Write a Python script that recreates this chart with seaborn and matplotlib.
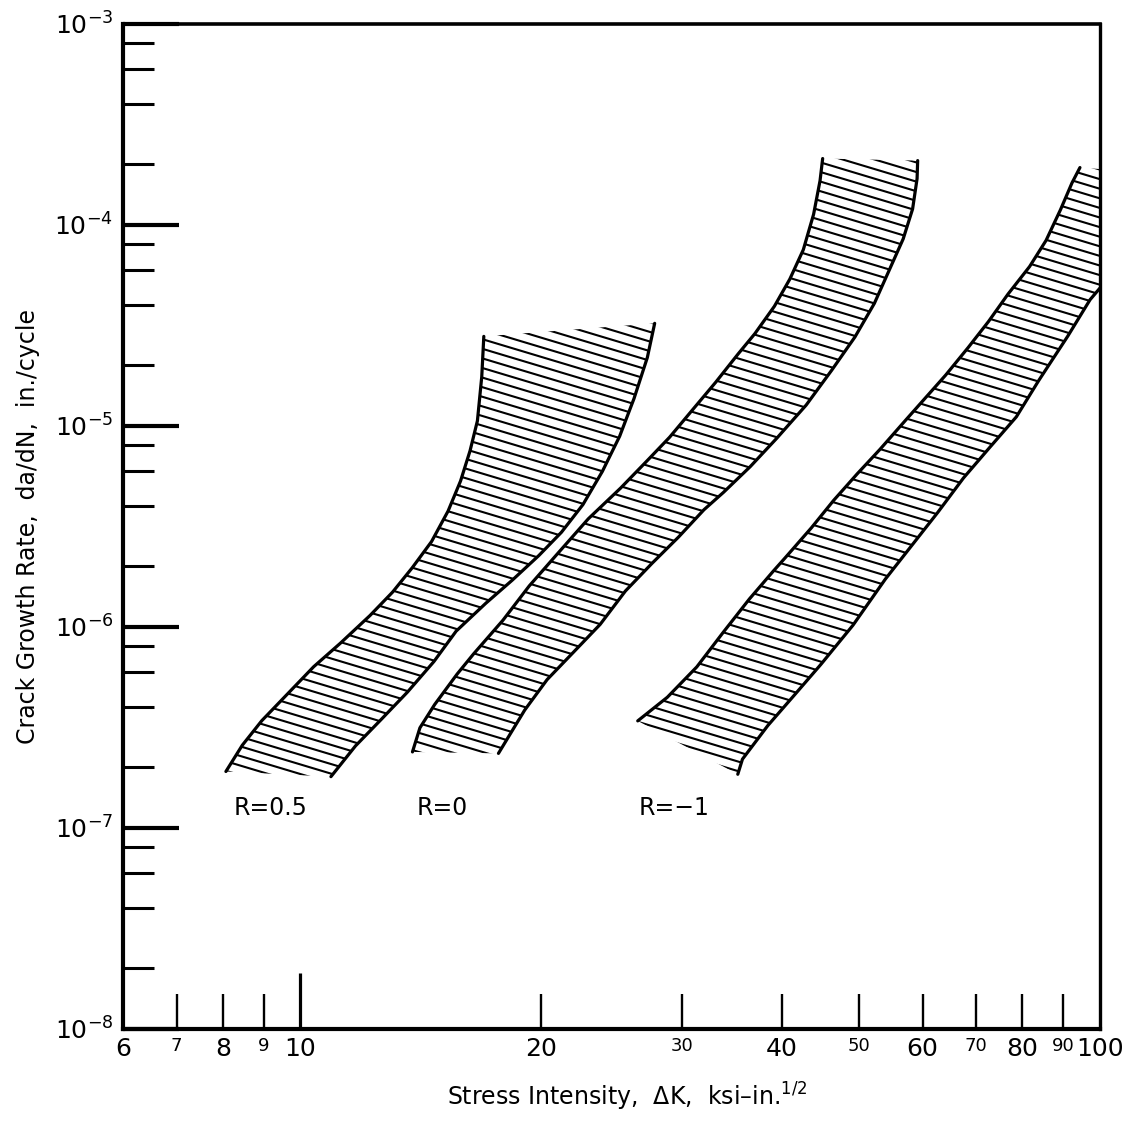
import numpy as np
import matplotlib
matplotlib.use("Agg")
import matplotlib.pyplot as plt
import seaborn as sns
from matplotlib.collections import LineCollection
from matplotlib.patches import Polygon
from matplotlib.ticker import LogLocator, NullFormatter, NullLocator

# ---------------- data ----------------
# R = 0.5 band: upper-left boundary and lower-right boundary
r05_upper_k = [16.96, 16.86, 16.65, 16.30, 15.86, 15.30, 14.59, 13.80, 13.04, 12.22,
               11.22, 10.39, 9.63, 8.95, 8.46, 8.07]
r05_upper_da = [2.79e-5, 1.76e-5, 1.06e-5, 7.52e-6, 5.32e-6, 3.77e-6, 2.66e-6, 1.97e-6,
                1.49e-6, 1.14e-6, 8.30e-7, 6.34e-7, 4.63e-7, 3.42e-7, 2.58e-7, 1.91e-7]
r05_lower_k = [27.74, 27.16, 26.14, 25.08, 23.86, 22.56, 21.21, 19.88, 18.41, 17.05,
               15.66, 14.69, 13.61, 12.65, 11.72, 10.92]
r05_lower_da = [3.24e-5, 2.19e-5, 1.37e-5, 8.89e-6, 5.94e-6, 4.06e-6, 2.96e-6, 2.27e-6,
                1.71e-6, 1.31e-6, 9.53e-7, 6.73e-7, 4.74e-7, 3.50e-7, 2.56e-7, 1.80e-7]

# R = 0 band
r0_upper_k = [45.0, 44.66, 43.84, 42.56, 40.94, 39.16, 37.02, 35.27, 33.07, 30.92, 28.96,
              27.14, 25.15, 22.91, 21.04, 19.33, 17.92, 16.47, 15.70, 14.72, 14.11, 13.81]
r0_upper_da = [2.14e-4, 1.66e-4, 1.13e-4, 7.53e-5, 5.38e-5, 3.94e-5, 2.88e-5, 2.28e-5,
               1.65e-5, 1.20e-5, 8.79e-6, 6.71e-6, 4.91e-6, 3.45e-6, 2.35e-6, 1.60e-6,
               1.08e-6, 7.35e-7, 5.82e-7, 4.11e-7, 3.15e-7, 2.39e-7]
r0_lower_k = [59.16, 59.06, 58.30, 56.74, 54.58, 52.22, 49.38, 46.17, 42.91, 39.43, 36.52,
              33.83, 31.97, 29.71, 27.52, 25.50, 23.71, 21.97, 20.35, 19.08, 17.69]
r0_lower_da = [2.09e-4, 1.70e-4, 1.20e-4, 8.52e-5, 6.03e-5, 4.07e-5, 2.77e-5, 1.89e-5,
               1.27e-5, 8.69e-6, 6.27e-6, 4.68e-6, 3.83e-6, 2.80e-6, 2.07e-6, 1.51e-6,
               1.03e-6, 7.51e-7, 5.47e-7, 3.86e-7, 2.35e-7]

# R = -1 band
rm1_upper_k = [94.4, 92.27, 89.25, 85.63, 81.66, 76.74, 72.55, 68.39, 64.12, 57.28, 53.06,
               49.71, 46.46, 43.55, 40.36, 39.10, 36.45, 33.79, 31.32, 28.77, 26.42]
rm1_upper_da = [1.93e-4, 1.62e-4, 1.19e-4, 8.38e-5, 6.21e-5, 4.53e-5, 3.31e-5, 2.45e-5,
                1.79e-5, 1.08e-5, 7.64e-6, 5.78e-6, 4.27e-6, 3.11e-6, 2.20e-6, 1.91e-6,
                1.38e-6, 9.40e-7, 6.33e-7, 4.47e-7, 3.41e-7]
rm1_lower_k = [110.6, 101.4, 97.2, 91.16, 83.81, 78.6, 72.8, 67.5, 62.7, 58.1, 53.9, 49.1,
               44.75, 41.47, 38.42, 35.72, 35.24]
rm1_lower_da = [1.84e-4, 5.18e-5, 4.25e-5, 2.80e-5, 1.68e-5, 1.11e-5, 7.82e-6, 5.51e-6,
                3.72e-6, 2.53e-6, 1.73e-6, 1.02e-6, 6.50e-7, 4.58e-7, 3.23e-7, 2.20e-7,
                1.85e-7]

band_labels = ["R=0.5", "R=0", "R=\u22121"]
label_k = [8.25, 13.96, 26.5]
label_da = [1.26e-7, 1.26e-7, 1.26e-7]

x_ticks = [6, 7, 8, 9, 10, 20, 30, 40, 50, 60, 70, 80, 90, 100]
x_tick_labels = ["6", "7", "8", "9", "10", "20", "30", "40", "50", "60", "70", "80", "90", "100"]
x_small_labels = ["7", "9", "30", "50", "70", "90"]
y_ticks = [1e-8, 1e-7, 1e-6, 1e-5, 1e-4, 1e-3]
y_tick_labels = [r"10$^{-8}$", r"10$^{-7}$", r"10$^{-6}$", r"10$^{-5}$", r"10$^{-4}$", r"10$^{-3}$"]

x_label = "Stress Intensity,  \u0394K,  ksi\u2013in.$^{1/2}$"
y_label = "Crack Growth Rate,  da/dN,  in./cycle"

# ---------------- style ----------------
sns.set_theme(style="white", rc={
    "axes.edgecolor": "black", "xtick.color": "black", "ytick.color": "black",
    "text.color": "black", "axes.labelcolor": "black",
})
plt.rcParams["font.family"] = ["DejaVu Sans"]
plt.rcParams["mathtext.fontset"] = "dejavusans"

fig = plt.figure(figsize=(11.44, 11.30), dpi=100)
ax = fig.add_axes([0.1075, 0.0894, 0.854, 0.8894])
ax.set_xscale("log")
ax.set_yscale("log")
ax.set_xlim(6, 100)
ax.set_ylim(1e-8, 1e-3)

bands = [
    (r05_upper_k, r05_upper_da, r05_lower_k, r05_lower_da),
    (r0_upper_k, r0_upper_da, r0_lower_k, r0_lower_da),
    (rm1_upper_k, rm1_upper_da, rm1_lower_k, rm1_lower_da),
]

hatch_slope = 0.292      # in axes units (down to the right)
hatch_step = 0.00955     # vertical spacing in axes units

for uk, ud, lk, ld in bands:
    for kk, dd in [(uk, ud), (lk, ld)]:
        sns.lineplot(x=kk, y=dd, sort=False, estimator=None, color="black",
                     linewidth=2.3, ax=ax,
                     solid_joinstyle="round", solid_capstyle="round")
    verts = np.column_stack([np.r_[uk, lk[::-1]], np.r_[ud, ld[::-1]]])
    poly = Polygon(verts, closed=True, fill=False, edgecolor="none",
                   transform=ax.transData)
    ax.add_patch(poly)
    offsets = np.arange(-0.4, 1.45, hatch_step)
    segs = [[(0.0, c), (1.0, c - hatch_slope)] for c in offsets]
    lc = LineCollection(segs, colors="black", linewidths=1.5,
                        transform=ax.transAxes)
    lc.set_clip_path(poly)
    ax.add_collection(lc, autolim=False)
    lc.set_clip_box(ax.bbox)

for txt, k, d in zip(band_labels, label_k, label_da):
    ax.text(k, d, txt, fontsize=17, ha="left", va="center")

# ---------------- axes ----------------
ax.set_xlim(6, 100)
ax.set_ylim(1e-8, 1e-3)
for side, lw in [("left", 3.0), ("bottom", 3.0), ("top", 2.6), ("right", 2.4)]:
    ax.spines[side].set_visible(True)
    ax.spines[side].set_linewidth(lw)
    ax.spines[side].set_color("black")

ax.set_xticks(x_ticks)
ax.set_xticklabels(x_tick_labels)
ax.xaxis.set_minor_locator(NullLocator())
ax.tick_params(axis="x", which="major", direction="in", length=25, width=1.7,
               pad=6, labelsize=18, bottom=True, top=False)
for t, val in zip(ax.xaxis.get_major_ticks(), x_ticks):
    if val in (6, 100):
        t.tick1line.set_markersize(0)
    elif val == 10:
        t.tick1line.set_markersize(40)
        t.tick1line.set_markeredgewidth(2.3)
for lab in ax.get_xticklabels():
    if lab.get_text() in x_small_labels:
        lab.set_fontsize(13)

ax.set_yticks(y_ticks)
ax.set_yticklabels(y_tick_labels)
ax.yaxis.set_minor_locator(LogLocator(base=10, subs=[2, 4, 6, 8], numticks=50))
ax.yaxis.set_minor_formatter(NullFormatter())
ax.tick_params(axis="y", which="major", direction="in", length=40, width=3,
               pad=7, labelsize=18, left=True, right=False)
ax.tick_params(axis="y", which="minor", direction="in", length=22, width=2.2,
               left=True, right=False)

ax.set_xlabel(x_label, fontsize=17)
ax.xaxis.set_label_coords(0.516, -0.052)
ax.set_ylabel(y_label, fontsize=17)
ax.yaxis.set_label_coords(-0.085, 0.5)
ax.grid(False)

fig.savefig("out.png", dpi=100, facecolor="white")
